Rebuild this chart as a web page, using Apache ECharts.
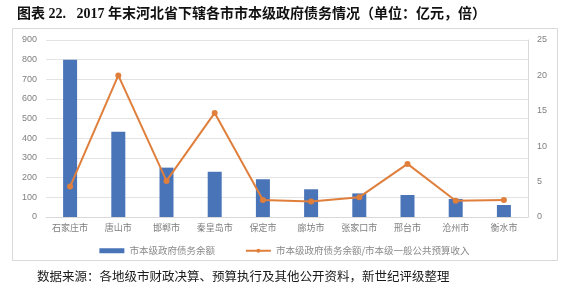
<!DOCTYPE html>
<html>
<head>
<meta charset="utf-8">
<script src="https://cdn.jsdelivr.net/npm/echarts@6/dist/echarts.min.js"></script>
<style>
  html, body { margin: 0; padding: 0; background: #fff; }
  #chart { width: 569px; height: 288px; }
</style>
</head>
<body>
<div id="chart"></div>
<script>
// 2017年末河北省各地级市市本级政府债务
const cities = ['石家庄市', '唐山市', '邯郸市', '秦皇岛市', '保定市', '廊坊市', '张家口市', '邢台市', '沧州市', '衡水市'];
const debtBalance = [800, 434, 251, 230, 192, 141, 120, 112, 92, 61];          // 亿元
const debtRatio = [4.3, 20.0, 5.1, 14.7, 2.4, 2.2, 2.8, 7.5, 2.3, 2.4];         // 倍
const leftTicks = { min: 0, max: 900, interval: 100 };
const rightTicks = { min: 0, max: 25, interval: 5 };
const barName = '市本级政府债务余额';
const lineName = '市本级政府债务余额/市本级一般公共预算收入';

const chart = echarts.init(document.getElementById('chart'), null, { renderer: 'canvas' });
const cjk = '"Noto Sans CJK SC", "Noto Sans", sans-serif';
const axisText = { color: '#7f7f7f', fontSize: 9, fontFamily: 'Liberation Sans, ' + cjk };

chart.setOption({
  animation: false,
  backgroundColor: '#fff',
  graphic: [
    {
      type: 'rect', left: 12, top: 28, z: -1,
      shape: { width: 545, height: 232 },
      style: { fill: '#fff', stroke: '#d9d9d9', lineWidth: 1 }
    },
    {
      type: 'text', left: 17, top: 7,
      style: {
        text: '图表 22.   2017 年末河北省下辖各市市本级政府债务情况（单位：亿元，倍）',
        fill: '#111', fontSize: 14, fontWeight: 'bold',
        fontFamily: '"Liberation Serif", ' + cjk
      }
    },
    {
      type: 'text', left: 37, top: 270,
      style: {
        text: '数据来源：各地级市财政决算、预算执行及其他公开资料，新世纪评级整理',
        fill: '#1a1a1a', fontSize: 12.5, fontFamily: cjk
      }
    }
  ],
  grid: { left: 46, right: 41, top: 40, bottom: 71, containLabel: false },
  legend: {
    left: 'center', top: 241,
    itemGap: 30, itemWidth: 25, itemHeight: 5,
    textStyle: { color: '#8a8a8a', fontSize: 9.5, fontFamily: cjk },
    data: [
      { name: barName, icon: 'rect' },
      { name: lineName }
    ]
  },
  xAxis: {
    type: 'category', data: cities,
    axisTick: { show: false },
    axisLine: { lineStyle: { color: '#d9d9d9' } },
    axisLabel: Object.assign({ margin: 7, interval: 0 }, axisText)
  },
  yAxis: [
    {
      type: 'value', min: leftTicks.min, max: leftTicks.max, interval: leftTicks.interval,
      axisLine: { show: false }, axisTick: { show: false },
      splitLine: { lineStyle: { color: '#e3e3e3' } },
      axisLabel: Object.assign({ margin: 9 }, axisText)
    },
    {
      type: 'value', min: rightTicks.min, max: rightTicks.max, interval: rightTicks.interval,
      axisLine: { show: true, lineStyle: { color: '#d9d9d9' } }, axisTick: { show: false },
      splitLine: { show: false },
      axisLabel: Object.assign({ margin: 9 }, axisText)
    }
  ],
  series: [
    {
      name: barName, type: 'bar', data: debtBalance, yAxisIndex: 0,
      barWidth: 14,
      itemStyle: { color: '#4a74b8' }
    },
    {
      name: lineName, type: 'line', data: debtRatio, yAxisIndex: 1,
      symbol: 'circle', symbolSize: 6,
      lineStyle: { color: '#e07f3c', width: 2 },
      itemStyle: { color: '#e07f3c' }
    }
  ]
});
</script>
</body>
</html>
